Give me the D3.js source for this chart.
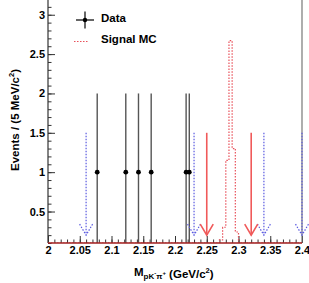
<!DOCTYPE html>
<html>
<head>
<meta charset="utf-8">
<script src="https://cdn.jsdelivr.net/npm/d3@7"></script>
<style>
  body { margin: 0; background: #fff; }
  svg text { font-family: "Liberation Sans", Arial, sans-serif; font-weight: bold; }
</style>
</head>
<body>
<div class="chart-container"></div>
<script>
// Data points (bin centres, counts, errors)
const dataX = [2.0775, 2.1225, 2.1425, 2.1625, 2.2175, 2.2225];
const dataY = [1, 1, 1, 1, 1, 1];
const dataErr = [1, 1, 1, 1, 1, 1];

// Signal MC histogram (5 MeV bins, low edges)
const mcLow = [2.270, 2.275, 2.280, 2.285, 2.290, 2.295];
const mcVal = [0.14, 0.3, 1.15, 2.67, 1.3, 0.24];

// Arrows
const blueArrows = [2.06, 2.23, 2.34, 2.40];
const redArrows = [2.25, 2.32];

const xTicks = [2, 2.05, 2.1, 2.15, 2.2, 2.25, 2.3, 2.35, 2.4];
const yTicks = [0.5, 1, 1.5, 2, 2.5, 3];

const width = 309, height = 283;
const margin = { top: -1, right: 7, bottom: 40, left: 48 };
const x0 = margin.left, x1 = width - margin.right;
const y0 = height - margin.bottom, y1 = margin.top;

const svg = d3.select(".chart-container")
  .append("svg")
    .attr("width", width)
    .attr("height", height);

const xScale = d3.scaleLinear().domain([2, 2.4]).range([x0, x1]);
const yScale = d3.scaleLinear().domain([0.1, 3.2]).range([y0, y1]).clamp(true);

// clip for the plot area
svg.append("clipPath").attr("id", "plot")
  .append("rect").attr("x", x0).attr("y", y1).attr("width", x1 - x0).attr("height", y0 - y1);

// Axes, ROOT-style ticks inside
const gX = svg.append("g").attr("transform", `translate(0, ${y0})`);
gX.call(d3.axisBottom(xScale).tickValues(d3.range(2, 2.4001, 0.01)).tickSize(-3.5).tickFormat(""));
gX.call(g => g.select(".domain").remove());
const gXMaj = svg.append("g").attr("transform", `translate(0, ${y0})`);
gXMaj.call(d3.axisBottom(xScale).tickValues(xTicks).tickSize(-7).tickPadding(3)
  .tickFormat(d => String(+d.toFixed(2))));
gXMaj.select(".domain").remove();

const gY = svg.append("g").attr("transform", `translate(${x0}, 0)`);
gY.call(d3.axisLeft(yScale).tickValues(d3.range(0.1, 3.201, 0.1)).tickSize(-3.5).tickFormat(""));
gY.select(".domain").remove();
const gYMaj = svg.append("g").attr("transform", `translate(${x0}, 0)`);
gYMaj.call(d3.axisLeft(yScale).tickValues(yTicks).tickSize(-7).tickPadding(3)
  .tickFormat(d => String(+d.toFixed(1))));
gYMaj.select(".domain").remove();
svg.selectAll(".tick line").attr("stroke", "#333");
svg.selectAll(".tick text").attr("font-size", 11).attr("fill", "#000")
  .attr("font-family", "Liberation Sans, Arial, sans-serif");

// frame
svg.append("line").attr("x1", x0).attr("x2", x0).attr("y1", y1).attr("y2", y0)
  .attr("stroke", "#333").attr("stroke-width", 1.2);
svg.append("line").attr("x1", x1).attr("x2", x1).attr("y1", y1).attr("y2", y0)
  .attr("stroke", "#777").attr("stroke-width", 1.2);

const plot = svg.append("g").attr("clip-path", "url(#plot)");

// Signal MC histogram (dotted, steps)
const pts = [[2, 0]];
mcLow.forEach((lo, i) => {
  pts.push([lo, pts[pts.length - 1][1]]);
  pts.push([lo, mcVal[i]]);
  pts.push([lo + 0.005, mcVal[i]]);
});
pts.push([mcLow[mcLow.length - 1] + 0.005, 0]);
pts.push([2.4, 0]);
plot.append("path")
  .attr("d", d3.line().x(d => xScale(d[0])).y(d => yScale(d[1]))(pts))
  .attr("fill", "none")
  .attr("stroke", "#e8505a")
  .attr("stroke-width", 1.2)
  .attr("stroke-dasharray", "1.5,1.5");

// bottom axis line (red histogram baseline)
svg.append("line").attr("x1", x0).attr("x2", x1).attr("y1", y0).attr("y2", y0)
  .attr("stroke", "#a02020").attr("stroke-width", 1.4);

// arrows
function arrow(g, xv, color, dashed, sw) {
  const xx = xScale(xv), top = yScale(1.5), tip = yScale(0.2);
  const a = g.append("g").attr("stroke", color).attr("fill", "none").attr("stroke-width", sw);
  if (dashed) a.attr("stroke-dasharray", "1.5,1.5");
  a.append("line").attr("x1", xx).attr("x2", xx).attr("y1", top).attr("y2", tip);
  a.append("path").attr("d", `M${xx - 6.5},${tip - 11}L${xx},${tip}L${xx + 6.5},${tip - 11}`);
}
blueArrows.forEach(v => arrow(svg, v, "#5a5ae0", true, 1.2));
redArrows.forEach(v => arrow(svg, v, "#f05a5a", false, 1.6));

// Data error bars and markers
const errG = plot.append("g");
dataX.forEach((xv, i) => {
  errG.append("line")
    .attr("x1", xScale(xv)).attr("x2", xScale(xv))
    .attr("y1", yScale(dataY[i] + dataErr[i])).attr("y2", yScale(dataY[i] - dataErr[i]))
    .attr("stroke", "#555").attr("stroke-width", 1.4);
});
plot.selectAll("circle.pt")
  .data(dataX)
  .join("circle")
    .attr("class", "pt")
    .attr("cx", d => xScale(d))
    .attr("cy", (d, i) => yScale(dataY[i]))
    .attr("r", 2.4)
    .attr("fill", "#000");

// Legend
const leg = svg.append("g");
leg.append("line").attr("x1", 76).attr("x2", 94).attr("y1", 20).attr("y2", 20).attr("stroke", "#000").attr("stroke-width", 1.2);
leg.append("line").attr("x1", 85).attr("x2", 85).attr("y1", 11.5).attr("y2", 28.5).attr("stroke", "#000").attr("stroke-width", 1.2);
leg.append("circle").attr("cx", 85).attr("cy", 20).attr("r", 2.2).attr("fill", "#000");
leg.append("text").attr("x", 101).attr("y", 21.5).attr("font-size", 11.5).text("Data");
leg.append("line").attr("x1", 74).attr("x2", 88).attr("y1", 41.5).attr("y2", 41.5)
  .attr("stroke", "#e8505a").attr("stroke-width", 1.2).attr("stroke-dasharray", "1.5,1.5");
leg.append("text").attr("x", 101).attr("y", 43).attr("font-size", 11.5).text("Signal MC");

// Axis titles
const xt = svg.append("text").attr("x", 134).attr("y", 276).attr("font-size", 11.5);
xt.append("tspan").text("M");
xt.append("tspan").attr("font-size", 8).attr("dy", 3).text("pK");
xt.append("tspan").attr("font-size", 6).attr("dy", -4).text("-");
xt.append("tspan").attr("font-size", 8).attr("dy", 4).text("π");
xt.append("tspan").attr("font-size", 6).attr("dy", -4).text("+");
xt.append("tspan").attr("dy", 3).text(" (GeV/c");
xt.append("tspan").attr("font-size", 7.5).attr("dy", -5).text("2");
xt.append("tspan").attr("dy", 5).text(")");

const yt = svg.append("text")
  .attr("transform", "translate(19, 120) rotate(-90)")
  .attr("text-anchor", "middle")
  .attr("font-size", 11.5);
yt.append("tspan").text("Events / (5 MeV/c");
yt.append("tspan").attr("font-size", 7.5).attr("dy", -5).text("2");
yt.append("tspan").attr("dy", 5).text(")");
</script>
</body>
</html>
